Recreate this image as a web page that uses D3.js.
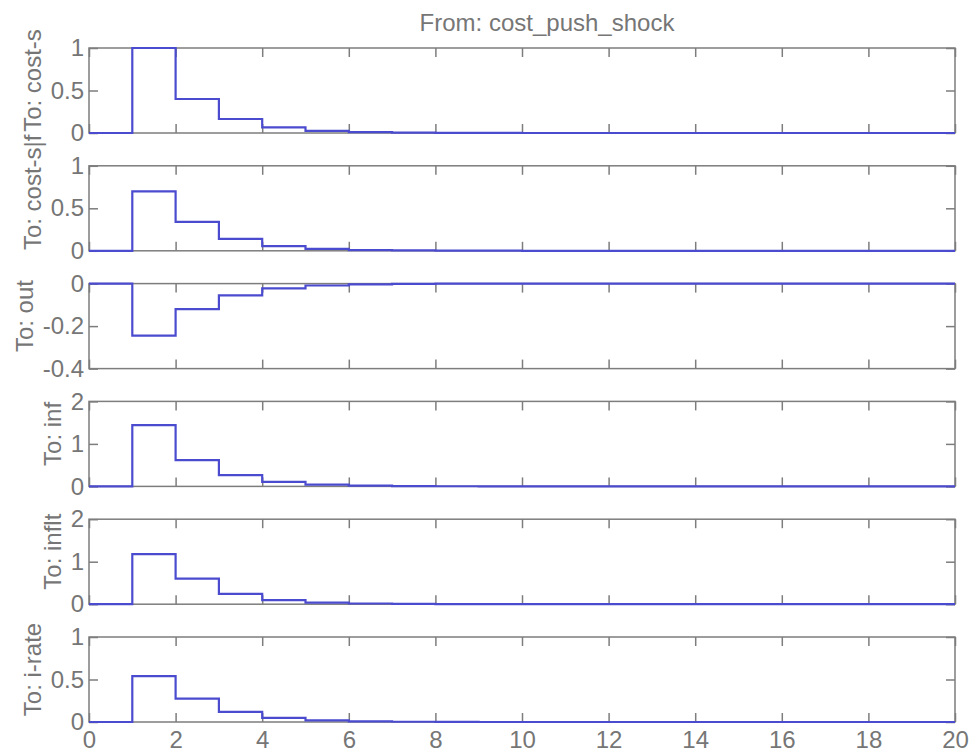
<!DOCTYPE html>
<html>
<head>
<meta charset="utf-8">
<script src="https://cdn.jsdelivr.net/npm/d3@7"></script>
<style>
  body { margin: 0; background: #fff; }
  text { font-family: "Liberation Sans", Arial, sans-serif; }
</style>
</head>
<body>
<svg></svg>
<script>
// impulse response, one shock, six outputs
const title = "From: cost_push_shock";
const steps = [0,1,2,3,4,5,6,7,8,9,10,11,12,13,14,15,16,17,18,19,20];

const costS     = [0, 1.00, 0.40, 0.165, 0.066, 0.026, 0.010, 0.004, 0.002, 0.001, 0, 0, 0, 0, 0, 0, 0, 0, 0, 0, 0];
const costSf    = [0, 0.70, 0.34, 0.14, 0.056, 0.022, 0.009, 0.004, 0.001, 0.001, 0, 0, 0, 0, 0, 0, 0, 0, 0, 0, 0];
const out       = [0, -0.245, -0.12, -0.055, -0.022, -0.009, -0.004, -0.001, 0, 0, 0, 0, 0, 0, 0, 0, 0, 0, 0, 0, 0];
const inf       = [0, 1.44, 0.62, 0.265, 0.105, 0.042, 0.017, 0.007, 0.003, 0.001, 0, 0, 0, 0, 0, 0, 0, 0, 0, 0, 0];
const inflt     = [0, 1.18, 0.60, 0.245, 0.098, 0.039, 0.016, 0.006, 0.002, 0.001, 0, 0, 0, 0, 0, 0, 0, 0, 0, 0, 0];
const iRate     = [0, 0.54, 0.275, 0.118, 0.048, 0.019, 0.008, 0.003, 0.001, 0, 0, 0, 0, 0, 0, 0, 0, 0, 0, 0, 0];

const outputLabels = ["To: cost-s", "To: cost-s|f", "To: out", "To: inf", "To: inflt", "To: i-rate"];
const yTicks01  = [0, 0.5, 1];
const yTicksOut = [-0.4, -0.2, 0];
const yTicks02  = [0, 1, 2];
const xTicks    = [0, 2, 4, 6, 8, 10, 12, 14, 16, 18, 20];

const series = [costS, costSf, out, inf, inflt, iRate];
const tickSets = [yTicks01, yTicks01, yTicksOut, yTicks02, yTicks02, yTicks01];

const width = 973, height = 753;
const left = 89, right = 955;
const top0 = 48, panelH = 85, panelStep = 117.8;
const txt = "#767676", axisCol = "#7d7d7d", lineCol = "#4b4bcf";
const fontSize = 24;

const svg = d3.select("svg").attr("width", width).attr("height", height);

const x = d3.scaleLinear().domain([0, 20]).range([0, right - left]);

svg.append("text")
  .attr("x", 547).attr("y", 31)
  .attr("text-anchor", "middle")
  .attr("font-size", fontSize)
  .attr("fill", txt)
  .text(title);

series.forEach(function(vals, i) {
  const ticks = tickSets[i];
  const y = d3.scaleLinear().domain(d3.extent(ticks)).range([panelH, 0]);
  const g = svg.append("g").attr("transform", `translate(${left}, ${top0 + i * panelStep})`);

  // box
  g.append("rect")
    .attr("width", right - left).attr("height", panelH)
    .attr("fill", "none").attr("stroke", axisCol).attr("stroke-width", 1.5);

  const yAx = g.append("g")
    .call(d3.axisLeft(y).tickValues(ticks).tickSize(-9).tickSizeOuter(0).tickPadding(5).tickFormat(d => String(d)));
  g.append("g").attr("transform", `translate(${right - left},0)`)
    .call(d3.axisRight(y).tickValues(ticks).tickSize(-9).tickSizeOuter(0).tickFormat(""));
  g.append("g")
    .call(d3.axisTop(x).tickValues(xTicks).tickSize(-9).tickSizeOuter(0).tickFormat(""));
  g.append("g").attr("transform", `translate(0,${panelH})`)
    .call(d3.axisBottom(x).tickValues(xTicks).tickSize(-9).tickSizeOuter(0).tickPadding(9)
      .tickFormat(i === series.length - 1 ? (d => String(d)) : ""));

  g.selectAll(".domain").remove();
  g.selectAll(".tick line").attr("stroke", axisCol).attr("stroke-width", 1.5);
  g.selectAll(".tick text").attr("fill", txt).attr("font-size", fontSize)
    .attr("font-family", "'Liberation Sans', Arial, sans-serif");

  // step response
  const line = d3.line()
    .x((d, k) => x(steps[k]))
    .y(d => y(d))
    .curve(d3.curveStepAfter);
  g.append("path")
    .datum(vals)
    .attr("d", line)
    .attr("fill", "none")
    .attr("stroke", lineCol)
    .attr("stroke-width", 2.2);

  // y label placed left of the widest tick label, like MATLAB
  let minX = 0;
  yAx.selectAll(".tick text").each(function() {
    const b = this.getBBox();
    minX = Math.min(minX, b.x);
  });
  const cx = minX - 18;
  const cy = panelH / 2 - (i === 1 ? 16 : 10);
  g.append("text")
    .attr("transform", `translate(${cx},${cy}) rotate(-90)`)
    .attr("text-anchor", "middle")
    .attr("dy", "0.35em")
    .attr("font-size", fontSize)
    .attr("fill", txt)
    .text(outputLabels[i]);
});
</script>
</body>
</html>
